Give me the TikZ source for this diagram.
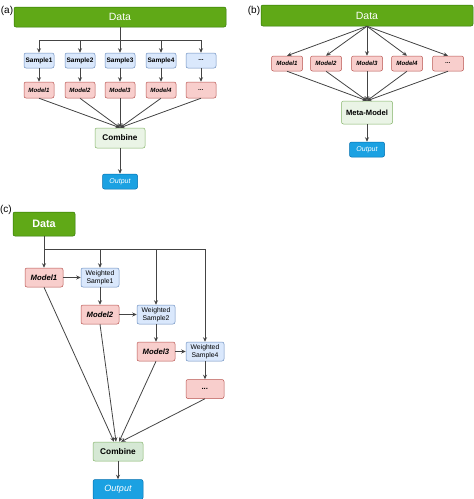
\documentclass[tikz,border=0pt]{standalone}
\usepackage{fontspec}
\setmainfont{Liberation Sans}
\usetikzlibrary{arrows.meta}
\definecolor{dgreen}{HTML}{60A917}
\definecolor{dgreenS}{HTML}{2D7600}
\definecolor{sampF}{HTML}{DAE8FC}
\definecolor{sampS}{HTML}{6C8EBF}
\definecolor{modF}{HTML}{F8CECC}
\definecolor{modS}{HTML}{B85450}
\definecolor{combF}{HTML}{D5E8D4}
\definecolor{combL}{HTML}{EAF4E6}
\definecolor{combS}{HTML}{82B366}
\definecolor{outF}{HTML}{1BA1E2}
\definecolor{outS}{HTML}{006EAF}
\definecolor{lineC}{HTML}{444444}
\newcommand{\tdots}{...}
\tikzset{
  box/.style={rounded corners=2pt, line width=0.5pt, inner sep=0pt, align=center},
  databar/.style={box, fill=dgreen, draw=dgreenS, text=white},
  sampbox/.style={box, fill=sampF, draw=sampS},
  modbox/.style={box, fill=modF, draw=modS},
  combbox/.style={box, fill=combF, draw=combS},
  outbox/.style={box, fill=outF, draw=outS, text=white},
  conn/.style={draw=lineC, line width=0.8pt},
  arr/.style={conn, -{Stealth[length=4.5pt,width=4pt]}},
  lbl/.style={inner sep=0pt, font=\fontsize{10}{12}\selectfont},
}
\begin{document}
\begin{tikzpicture}[x=1pt,y=-1pt]
\useasboundingbox (0,0) rectangle (474,499);
% ---------- (a) ----------
\node[lbl] (la) at (7,11) {(a)};
\node[databar, minimum width=212pt, minimum height=20pt, font=\fontsize{10.5}{12}\selectfont] (DA) at (120,17) {Data};
\foreach \i/\x/\t in {1/39/Sample1,2/80/Sample2,3/120/Sample3,4/161/Sample4,5/201/\tdots}{
  \coordinate (ja\i) at (\x,40);
  \node[sampbox, minimum width=30pt, minimum height=15pt, font=\fontsize{6.5}{7}\selectfont\bfseries] (SA\i) at (\x,60.5) {\t};
}
\foreach \i/\x/\t in {1/39/Model1,2/80/Model2,3/120/Model3,4/161/Model4,5/201/\tdots}{
  \node[modbox, minimum width=30pt, minimum height=16pt, font=\fontsize{6.1}{7}\selectfont\bfseries\itshape] (MA\i) at (\x,90) {\t};
}
\node[combbox, fill=combL, minimum width=50pt, minimum height=20pt, font=\fontsize{8.2}{10}\selectfont\bfseries] (CA) at (120,138) {Combine};
\node[outbox, minimum width=35pt, minimum height=15pt, font=\fontsize{7}{8}\selectfont\itshape] (OA) at (120,181.5) {Output};
\draw[conn] (DA.south) -- (ja3);
\draw[conn] (ja1) -- (ja5);
\foreach \i in {1,2,3,4,5}{
  \draw[arr] (ja\i) -- (SA\i.north);
  \draw[arr] (SA\i.south) -- (MA\i.north);
  \draw[arr] (MA\i.south) -- (CA.north);
}
\draw[arr] (CA.south) -- (OA.north);
% ---------- (b) ----------
\node[lbl] (lb) at (254,11) {(b)};
\node[databar, minimum width=212pt, minimum height=21pt, font=\fontsize{10.5}{12}\selectfont] (DB) at (367,15.5) {Data};
\node[combbox, fill=combL, minimum width=51pt, minimum height=23pt, font=\fontsize{7.6}{9}\selectfont\bfseries] (MM) at (367,112.5) {Meta-Model};
\foreach \i/\x/\t in {1/287/Model1,2/326/Model2,3/367/Model3,4/407/Model4,5/448/\tdots}{
  \node[modbox, minimum width=31pt, minimum height=15pt, font=\fontsize{6.1}{7}\selectfont\bfseries\itshape] (MB\i) at (\x,63.5) {\t};
  \draw[arr] (DB.south) -- (MB\i.north);
  \draw[arr] (MB\i.south) -- (MM.north);
}
\node[outbox, minimum width=35pt, minimum height=15pt, font=\fontsize{7}{8}\selectfont\itshape] (OB) at (367,149.5) {Output};
\draw[arr] (MM.south) -- (OB.north);
% ---------- (c) ----------
\node[lbl] (lc) at (6,210) {(c)};
\node[databar, minimum width=62pt, minimum height=24pt, font=\fontsize{10.8}{12}\selectfont\bfseries] (DC) at (44,224) {Data};
\coordinate (jc1) at (44,249);
\coordinate (jc2) at (100,249);
\coordinate (jc3) at (156,249);
\coordinate (jc4) at (205,249);
\tikzset{cmod/.style={modbox, minimum width=38pt, minimum height=19pt, font=\fontsize{7.7}{9}\selectfont\bfseries\itshape},
         cws/.style={sampbox, minimum width=38pt, minimum height=19pt, font=\fontsize{6.8}{7.6}\selectfont}}
\node[cmod] (M1) at (44,277.5) {Model1};
\node[cws] (W1) at (100,277.5) {Weighted\\Sample1};
\node[cmod] (M2) at (100,314.5) {Model2};
\node[cws] (W2) at (156,314.5) {Weighted\\Sample2};
\node[cmod] (M3) at (156,351.5) {Model3};
\node[cws] (W4) at (205,351.5) {Weighted\\Sample4};
\node[cmod] (M4) at (205,389) {...};
\node[combbox, minimum width=50pt, minimum height=19pt, font=\fontsize{8.3}{10}\selectfont\bfseries] (CC) at (118,451.5) {Combine};
\node[outbox, minimum width=50pt, minimum height=20pt, font=\fontsize{9}{10}\selectfont\itshape] (OC) at (118,489.5) {Output};
\draw[conn] (DC.south) -- (jc1);
\draw[conn] (jc1) -- (jc4);
\draw[arr] (jc1) -- (M1.north);
\draw[arr] (jc2) -- (W1.north);
\draw[arr] (jc3) -- (W2.north);
\draw[arr] (jc4) -- (W4.north);
\draw[arr] (M1.east) -- (W1.west);
\draw[arr] (W1.south) -- (M2.north);
\draw[arr] (M2.east) -- (W2.west);
\draw[arr] (W2.south) -- (M3.north);
\draw[arr] (M3.east) -- (W4.west);
\draw[arr] (W4.south) -- (M4.north);
\draw[arr] (M1.south) -- ([xshift=-4pt]CC.north);
\draw[arr] (M2.south) -- ([xshift=-2pt]CC.north);
\draw[arr] (M3.south) -- ([xshift=1pt]CC.north);
\draw[arr] (M4.south) -- ([xshift=3pt]CC.north);
\draw[arr] (CC.south) -- (OC.north);
\end{tikzpicture}
\end{document}
